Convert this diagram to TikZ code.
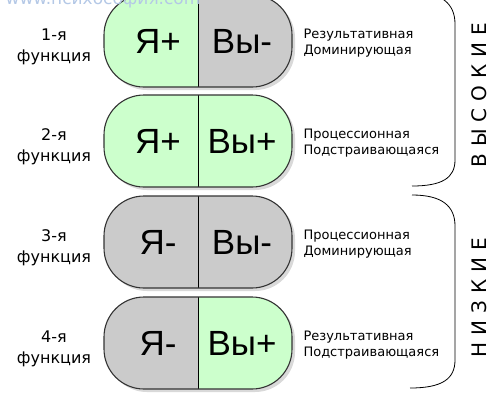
\documentclass[tikz,border=0pt]{standalone}
\usepackage{fontspec}
\setmainfont{DejaVu Sans}
\newfontfamily\signfont{Liberation Sans}
\usetikzlibrary{shadows}

\definecolor{plusgreen}{HTML}{CCFFCC}
\definecolor{minusgray}{HTML}{CBCBCB}
\definecolor{siteblue}{HTML}{B4C8E6}

\tikzset{
  pill/.style={draw=black!80, line width=1.1pt, rounded corners=40pt,
    drop shadow={shadow xshift=3pt, shadow yshift=-3pt, opacity=.3}},
  righthalf/.style={path picture={
    \fill[#1, sharp corners] (path picture bounding box.north) rectangle (path picture bounding box.south east);
    \draw[black, line width=1pt, sharp corners] (path picture bounding box.north) -- (path picture bounding box.south);}},
  sign/.style={font=\signfont\fontsize{35}{35}\selectfont, anchor=base},
  fnlabel/.style={font=\fontsize{16}{21}\selectfont, align=center},
  kind/.style={font=\fontsize{13}{15.5}\selectfont, align=left, anchor=west},
  grouplabel/.style={font=\fontsize{20}{20}\selectfont, rotate=90},
  brace/.style={draw, line width=0.8pt}
}

\begin{document}
\begin{tikzpicture}[x=1pt,y=-1pt]
  \useasboundingbox (0,0) rectangle (496,400);

  % pills
  \path[pill, fill=plusgreen, righthalf=minusgray] (104,-5) rectangle (292,87);
  \path[pill, fill=plusgreen, righthalf=plusgreen] (104,95) rectangle (292,187);
  \path[pill, fill=minusgray, righthalf=minusgray] (104,196) rectangle (292,288);
  \path[pill, fill=minusgray, righthalf=plusgreen] (104,297) rectangle (292,389);

  % signs
  \node[sign] (me1) at (158,53) {Я+};
  \node[sign] (you1) at (242,53) {Вы-};
  \node[sign] (me2) at (158,153) {Я+};
  \node[sign] (you2) at (242,153) {Вы+};
  \node[sign] (me3) at (158,254) {Я-};
  \node[sign] (you3) at (242,254) {Вы-};
  \node[sign] (me4) at (158,355) {Я-};
  \node[sign] (you4) at (242,355) {Вы+};

  % functions
  \node[fnlabel] (fn1) at (54,47) {1-я\\функция};
  \node[fnlabel] (fn2) at (54,147) {2-я\\функция};
  \node[fnlabel] (fn3) at (54,248) {3-я\\функция};
  \node[fnlabel] (fn4) at (54,349) {4-я\\функция};

  % kinds
  \node[kind] (kind1) at (300,43) {Результативная\\Доминирующая};
  \node[kind] (kind2) at (300,143) {Процессионная\\Подстраивающаяся};
  \node[kind] (kind3) at (300,244) {Процессионная\\Доминирующая};
  \node[kind] (kind4) at (300,345) {Результативная\\Подстраивающаяся};

  % braces
  \draw[brace] (412,-8) .. controls (442,-8) and (455,4) .. (455,24)
    -- (455,160) .. controls (455,178) and (442,186) .. (412,186);
  \draw[brace] (412,195) .. controls (442,195) and (455,206) .. (455,226)
    -- (455,360) .. controls (455,379) and (442,388) .. (410,388);

  \node[grouplabel] (high) at (479,95) {В\kern7pt Ы\kern7pt С\kern7pt О\kern7pt К\kern7pt И\kern7pt Е};
  \node[grouplabel] (low) at (479,298) {Н\kern7pt И\kern7pt З\kern7pt К\kern7pt И\kern7pt Е};

  \node[font=\fontsize{17}{17}\selectfont, text=siteblue, anchor=base] (site) at (103,4) {www.психософия.com};
\end{tikzpicture}
\end{document}
